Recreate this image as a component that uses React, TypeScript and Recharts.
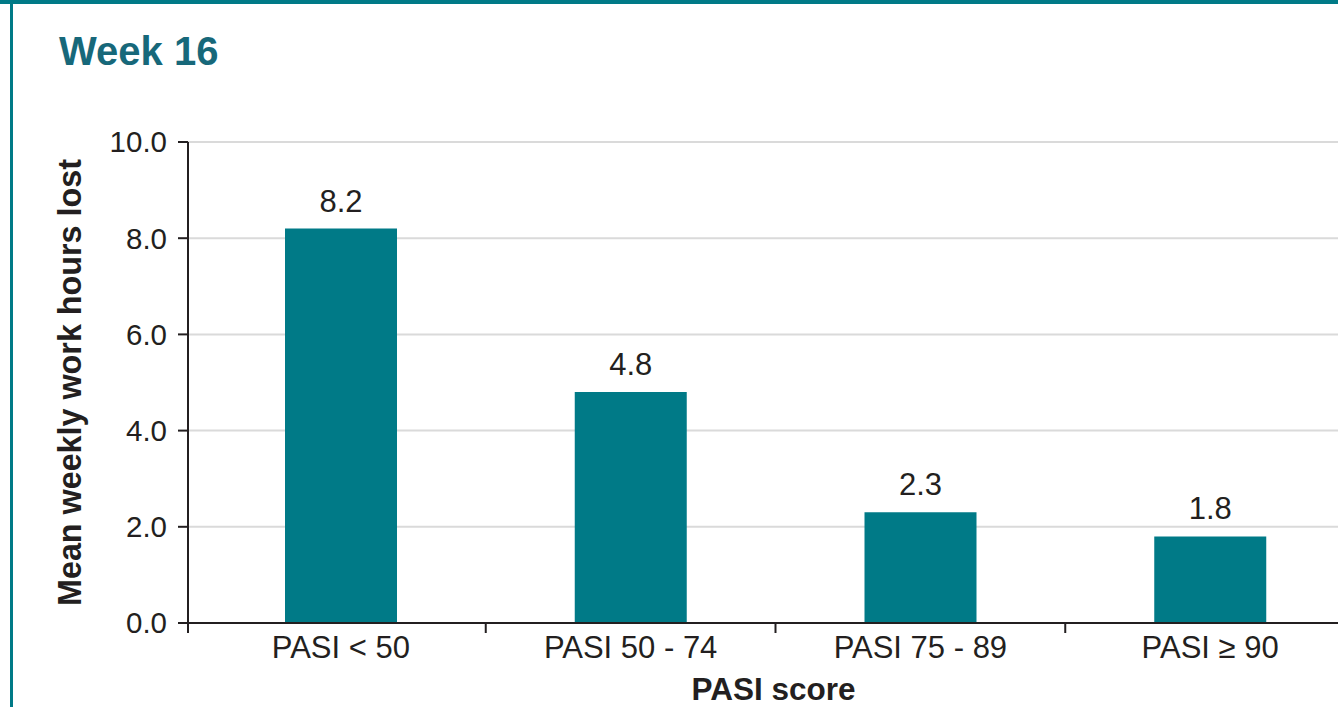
import { BarChart, Bar, XAxis, YAxis, CartesianGrid, LabelList } from "recharts";

const categories = ["PASI < 50", "PASI 50 - 74", "PASI 75 - 89", "PASI ≥ 90"];
const hoursLost = [8.2, 4.8, 2.3, 1.8];
const yTicks = [0, 2, 4, 6, 8, 10];

const data = categories.map((name, i) => ({ name, value: hoursLost[i] }));

const TEAL = "#007a87";
const INK = "#231f20";
const FONT = "'Liberation Sans', Arial, Helvetica, sans-serif";

const CHART_W = 1363;
const CHART_H = 707;
const M_RIGHT = 8;
const Y_W = 188;
const PAD_L = 8;
const BAND = (CHART_W - M_RIGHT - Y_W - PAD_L) / categories.length;

const XTick = (props: any) => {
  const { x, y, payload, index } = props;
  const tx = index === 0 ? x - BAND / 2 - PAD_L : x - BAND / 2;
  return (
    <g>
      <line x1={tx} x2={tx} y1={y - 1} y2={y + 10} stroke={INK} strokeWidth={2} />
      <text x={x} y={y + 35} textAnchor="middle" fill={INK} fontSize={31} fontFamily={FONT}>
        {payload.value}
      </text>
    </g>
  );
};

export default function App() {
  return (
    <div
      style={{
        position: "absolute",
        top: 0,
        left: 0,
        width: 1338,
        height: 707,
        overflow: "hidden",
        background: "#fff",
        fontFamily: FONT,
      }}
    >
      <div style={{ position: "absolute", top: 0, left: 0, width: 1338, height: 4, background: TEAL }} />
      <div style={{ position: "absolute", top: 0, left: 10, width: 3, height: 707, background: TEAL }} />
      <div
        style={{
          position: "absolute",
          left: 59,
          top: 28,
          fontSize: 40,
          fontWeight: 700,
          color: "#17687a",
          lineHeight: "46px",
        }}
      >
        Week 16
      </div>
      <div style={{ position: "absolute", top: 0, left: 0 }}>
        <BarChart
          width={CHART_W}
          height={CHART_H}
          data={data}
          margin={{ top: 142, right: M_RIGHT, left: 0, bottom: 0 }}
        >
          <CartesianGrid vertical={false} stroke="#dadada" strokeWidth={2} />
          <XAxis
            dataKey="name"
            height={84}
            padding={{ left: PAD_L, right: 0 }}
            tickLine={false}
            tickSize={0}
            tickMargin={0}
            axisLine={{ stroke: INK, strokeWidth: 2 }}
            tick={<XTick />}
            interval={0}
            label={(p: any) => (
              <text
                x={p.viewBox.x + p.viewBox.width / 2 + 2}
                y={700}
                textAnchor="middle"
                fill={INK}
                fontSize={31.5}
                fontWeight={700}
                fontFamily={FONT}
              >
                PASI score
              </text>
            )}
          />
          <YAxis
            width={Y_W}
            domain={[0, 10]}
            ticks={yTicks}
            interval={0}
            tickFormatter={(v: number) => v.toFixed(1)}
            tickSize={10}
            tickMargin={11}
            tickLine={{ stroke: INK, strokeWidth: 2 }}
            axisLine={{ stroke: INK, strokeWidth: 2 }}
            tick={{ fill: INK, fontSize: 29.5, fontFamily: FONT }}
            label={(p: any) => {
              const cy = p.viewBox.y + p.viewBox.height / 2;
              return (
                <text
                  x={70}
                  y={cy}
                  transform={`rotate(-90 70 ${cy})`}
                  textAnchor="middle"
                  dominantBaseline="central"
                  fill={INK}
                  fontSize={32.3}
                  fontWeight={700}
                  fontFamily={FONT}
                >
                  Mean weekly work hours lost
                </text>
              );
            }}
          />
          <Bar dataKey="value" fill={TEAL} barSize={112} isAnimationActive={false}>
            <LabelList
              dataKey="value"
              position="top"
              offset={17}
              formatter={(v: any) => Number(v).toFixed(1)}
              fill={INK}
              fontSize={31}
              fontFamily={FONT}
            />
          </Bar>
        </BarChart>
      </div>
    </div>
  );
}
